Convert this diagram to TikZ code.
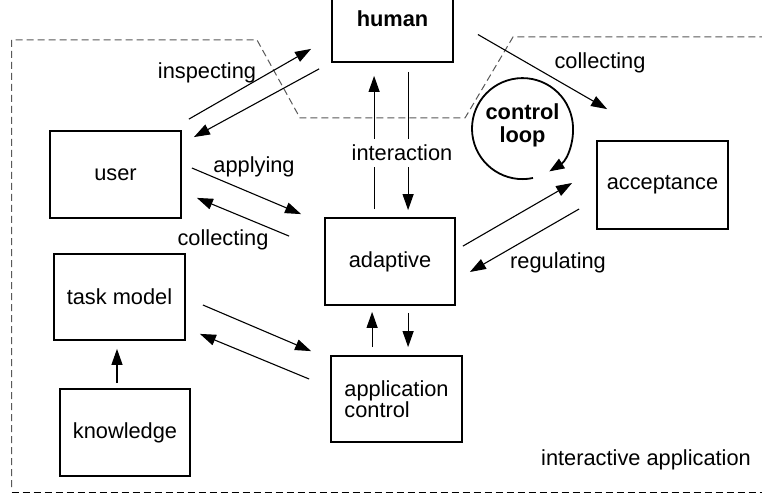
\documentclass[tikz,border=0pt]{standalone}
\usepackage{fontspec}
\setmainfont{Liberation Sans}
\usetikzlibrary{arrows.meta,calc}
\begin{document}
\begin{tikzpicture}[x=1pt,y=-1pt,
  font=\fontsize{21.8}{24}\selectfont,
  box/.style={draw, line width=1.8pt, inner sep=0pt, align=center},
  conn/.style={line width=1.1pt, -{Triangle[length=16pt,width=11pt]}},
  lbl/.style={inner sep=1pt},
  region/.style={line width=1pt, dash pattern=on 7pt off 4pt}]
\fill[white] (0,0) rectangle (762,494);
\useasboundingbox (0,0) rectangle (762,494);
% interactive application region
\draw[region, black!65] (11.5,487) -- (11.5,40) -- (257,40) -- (300,118) -- (465,118) -- (513,37) -- (762,37);
\draw[region] (11.5,492) -- (762,492);
% boxes
\node[box, minimum width=121pt, minimum height=87pt, font=\fontsize{21.8}{24}\selectfont\bfseries] (human) at (392.5,18.5) {human};
\node[box, minimum width=131pt, minimum height=87pt] (user) at (115.5,174.5) {user};
\node[box, minimum width=131pt, minimum height=86pt] (task) at (119.5,297) {task model};
\node[box, minimum width=130pt, minimum height=87pt] (know) at (125,432.5) {knowledge};
\node[box, minimum width=130pt, minimum height=87pt] (adapt) at (390,261.5) {adaptive};
\node[box, minimum width=131pt, minimum height=86pt, align=left, font=\fontsize{21.8}{20}\selectfont] (app) at (396.5,399) {application\\control};
\node[box, minimum width=131pt, minimum height=88pt] (accept) at (662.5,185) {acceptance};
% control loop
\node[align=center, inner sep=0pt, font=\fontsize{21.8}{23}\selectfont\bfseries] (loop) at (522.5,125) {control\\loop};
\draw[line width=1.8pt, -{Triangle[length=15pt,width=11pt]}] ([shift={(10.5,53)}]loop.center) arc[start angle=78, end angle=418, radius=50.5];
% connectors
\draw[conn] ([shift={(7,-11)}]user.north east) -- ([shift={(-20,-14)}]human.south west);
\draw[conn] ([shift={(-12,6)}]human.south west) -- ([shift={(12,7)}]user.north east);
\draw[conn] ([shift={(10,-6.5)}]user.east) -- ([shift={(-23,-3)}]adapt.north west);
\draw[conn] ([shift={(-35,19)}]adapt.north west) -- ([shift={(15,-21)}]user.south east);
\draw[conn] ([shift={(50,-8)}]adapt.north west) -- ([shift={(43,13)}]human.south west);
\draw[conn] ([shift={(77,9)}]human.south west) -- ([shift={(84,-7)}]adapt.north west);
\draw[conn] ([shift={(24,16)}]human.east) -- ([shift={(11,-31)}]accept.north west);
\draw[conn] ([shift={(7,29)}]adapt.north east) -- ([shift={(-24,-2)}]accept.west);
\draw[conn] ([shift={(-17,24)}]accept.west) -- ([shift={(14,10.5)}]adapt.east);
\draw[conn] ([shift={(17,8)}]task.east) -- ([shift={(-19,-4)}]app.north west);
\draw[conn] ([shift={(-21,-20)}]app.west) -- ([shift={(14,-7)}]task.south east);
\draw[conn] ([shift={(-8,-5)}]know.north) -- ([shift={(-2.5,8)}]task.south);
\draw[conn] ([shift={(42,-8)}]app.north west) -- ([shift={(48,6)}]adapt.south west);
\draw[conn] ([shift={(84,7)}]adapt.south west) -- ([shift={(78,-8)}]app.north west);
% labels
\node[lbl] (l1) at (207,73) {inspecting};
\node[lbl] (l2) at (254,167) {applying};
\node[lbl] (l3) at (223,240) {collecting};
\node[fill=white, inner xsep=2pt, inner ysep=6pt] (l4) at (402,153) {interaction};
\node[lbl] (l5) at (600,63) {collecting};
\node[lbl] (l6) at (558,263) {regulating};
\node[lbl] (l7) at (646,460) {interactive application};
\end{tikzpicture}
\end{document}
